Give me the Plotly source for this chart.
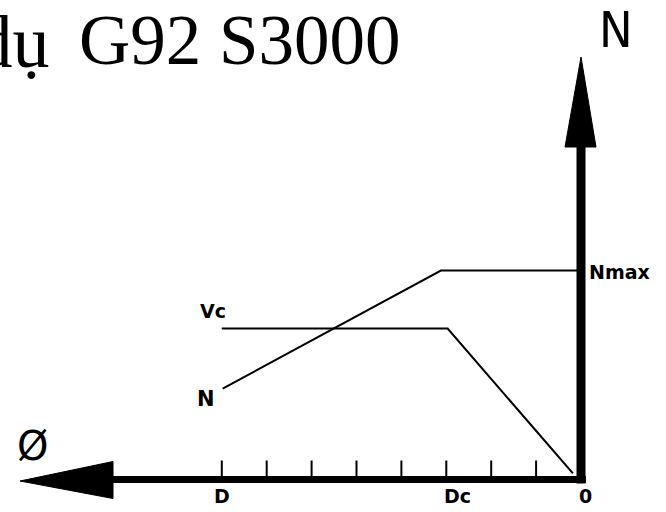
import plotly.graph_objects as go

# ---- data (diameter in tick units from spindle centre; speed in % of Nmax) ----
tick_positions = [1, 2, 3, 4, 5, 6, 7, 8]
tick_label_pos = [8, 3, 0]
tick_label_txt = ["D", "Dc", "0"]

vc_diam = [8.0, 2.97, 0.18]
vc_value = [72.2, 72.2, 2.9]

n_diam = [7.98, 3.12, 0.0]
n_value = [43.5, 100.0, 100.0]

title_parts = ["Ví dụ", "G92 S3000"]

# ---- geometry helpers (pixel scale of the drawing) ----
PX_X = 44.9   # px per diameter unit
PX_Y = 2.09   # px per speed unit
X0, Y0 = 581, 479.5
W, H = 666, 512
x_range = [X0 / PX_X, (X0 - W) / PX_X]           # reversed axis (diameter grows leftwards)
y_range = [(Y0 - H) / PX_Y, Y0 / PX_Y]

def dx(px):
    return px / PX_X

def dy(px):
    return px / PX_Y

fig = go.Figure()

black = "#000000"

# horizontal (diameter) axis shaft
h_end = dx(X0 - 113)
fig.add_trace(go.Scatter(x=[-dx(5), h_end], y=[0, 0], mode="lines",
                         line=dict(color=black, width=7), hoverinfo="skip"))
# left arrowhead
h_tip = dx(X0 - 20)
fig.add_trace(go.Scatter(x=[h_end, h_tip, h_end, h_end], y=[dy(18), -dy(1.5), -dy(19), dy(18)],
                         mode="lines", fill="toself", fillcolor=black,
                         line=dict(color=black, width=1), hoverinfo="skip"))

# vertical (speed) axis shaft
v_end = dy(Y0 - 147)
fig.add_trace(go.Scatter(x=[0, 0], y=[-dy(4), v_end], mode="lines",
                         line=dict(color=black, width=9), hoverinfo="skip"))
v_tip = dy(Y0 - 57)
fig.add_trace(go.Scatter(x=[dx(16), 0, -dx(15), dx(16)], y=[v_end, v_tip, v_end, v_end],
                         mode="lines", fill="toself", fillcolor=black,
                         line=dict(color=black, width=1), hoverinfo="skip"))

# tick marks
tx, ty = [], []
for t in tick_positions:
    tx += [t, t, None]
    ty += [0, dy(19), None]
fig.add_trace(go.Scatter(x=tx, y=ty, mode="lines", line=dict(color=black, width=2),
                         hoverinfo="skip"))

# curves
fig.add_trace(go.Scatter(x=vc_diam, y=vc_value, mode="lines",
                         line=dict(color=black, width=2), hoverinfo="skip"))
fig.add_trace(go.Scatter(x=n_diam, y=n_value, mode="lines",
                         line=dict(color=black, width=2), hoverinfo="skip"))

lab = dict(family="DejaVu Sans", size=19, color=black)

ann = []
for p, t in zip(tick_label_pos, tick_label_txt):
    shift = {"D": 0, "Dc": -dx(11), "0": -dx(4)}[t]
    ann.append(dict(x=p + shift, y=-dy(16), text="<b>%s</b>" % t, showarrow=False,
                    xref="x", yref="y", font=lab))
ann.append(dict(x=dx(X0 - 213), y=dy(Y0 - 311), text="<b>Vc</b>", showarrow=False,
                xref="x", yref="y", font=lab))
ann.append(dict(x=dx(X0 - 206), y=dy(Y0 - 399), text="<b>N</b>", showarrow=False,
                xref="x", yref="y", font=dict(family="DejaVu Sans", size=21, color=black)))
ann.append(dict(x=dx(X0 - 587), y=n_value[-1] + dy(-1), text="<b>Nmax</b>", showarrow=False,
                xref="x", yref="y", xanchor="left", font=lab))
ann.append(dict(x=dx(X0 - 32), y=dy(Y0 - 446), text="Ø", showarrow=False,
                xref="x", yref="y", font=dict(family="DejaVu Sans", size=40, color=black)))
ann.append(dict(x=dx(X0 - 616), y=dy(Y0 - 30), text="N", showarrow=False,
                xref="x", yref="y",
                font=dict(family="Liberation Sans Narrow, DejaVu Sans Condensed, DejaVu Sans",
                          size=50, color=black)))
tfont = dict(family="Liberation Serif, Times New Roman, serif", size=74, color=black)
ann.append(dict(x=52 / W, y=1 + 1 / H, xref="paper", yref="paper", xanchor="right",
                yanchor="top", text=title_parts[0], showarrow=False, font=tfont))
ann.append(dict(x=403 / W, y=1 + 1 / H, xref="paper", yref="paper", xanchor="right",
                yanchor="top", text=title_parts[1], showarrow=False,
                font=dict(tfont, size=71)))

fig.update_layout(
    width=W, height=H, margin=dict(l=0, r=0, t=0, b=0),
    paper_bgcolor="white", plot_bgcolor="white", showlegend=False,
    xaxis=dict(range=x_range, visible=False, fixedrange=True),
    yaxis=dict(range=y_range, visible=False, fixedrange=True),
    annotations=ann,
)

fig.write_html("out.html", config={"displayModeBar": False},
               post_script="document.body.style.margin='0px';document.body.style.overflow='hidden';")
